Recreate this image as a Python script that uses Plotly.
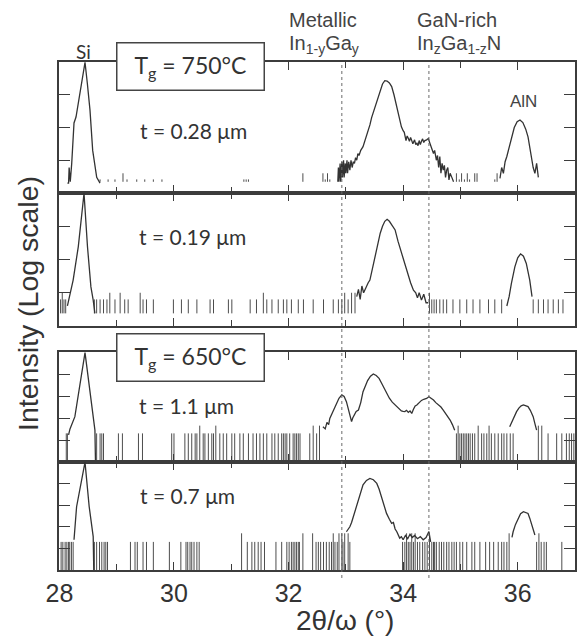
import plotly.graph_objects as go

# ---------------------------------------------------------------------------
# XRD 2θ/ω scans (counts vs 2θ in degrees), four InGaN/InGa samples.
#   a: Tg = 750 °C, t = 0.28 µm     b: Tg = 750 °C, t = 0.19 µm
#   c: Tg = 650 °C, t = 1.1 µm      d: Tg = 650 °C, t = 0.7 µm
# ---------------------------------------------------------------------------

# --- sample a ---
si_tt_a = [28.14, 28.16, 28.17, 28.19, 28.215, 28.255, 28.29, 28.447, 28.487,
           28.534, 28.581, 28.621, 28.651, 28.709]
si_cps_a = [2, 2, 6, 2.2, 8, 138, 209, 9800, 2290, 339, 20, 6, 3, 2]

main_tt_a = [32.86, 32.87, 32.88, 32.90, 32.91, 32.93, 32.94, 32.96, 32.97, 32.99,
             33.00, 33.02, 33.03, 33.05, 33.07, 33.09, 33.11, 33.13, 33.15, 33.17,
             33.19, 33.21, 33.23, 33.26, 33.30, 33.33, 33.36, 33.40, 33.42, 33.45,
             33.48, 33.51, 33.54, 33.58, 33.61, 33.64, 33.68, 33.72, 33.76, 33.80,
             33.84, 33.89, 33.93, 33.97, 34.00, 34.02, 34.05, 34.07, 34.09, 34.11,
             34.13, 34.15, 34.17, 34.20, 34.22, 34.24, 34.26, 34.28, 34.30, 34.32,
             34.34, 34.36, 34.38, 34.41, 34.44, 34.47, 34.50, 34.53, 34.55, 34.58,
             34.60, 34.62, 34.64, 34.66, 34.68, 34.70, 34.72, 34.74, 34.76, 34.78,
             34.80, 34.82, 34.85, 34.88]
main_cps_a = [2.2, 6, 2.2, 8, 2.2, 9, 3, 10, 3, 8,
              4, 10, 4, 9, 5, 10, 6, 9, 8, 12,
              10, 16, 14, 20, 26, 38, 50, 85, 120, 200,
              295, 450, 690, 1150, 1580, 2140, 2690, 2630, 2290, 1780,
              1000, 436, 200, 105, 80, 71, 40, 55, 47, 38,
              50, 36, 32, 42, 30, 33, 28, 40, 30, 38,
              45, 35, 40, 42, 46, 32, 23, 16, 20, 10,
              14, 6, 13, 4, 8, 5, 7, 3, 5, 6,
              2.5, 4, 3, 2.2]

aln_tt_a = [35.69, 35.72, 35.75, 35.78, 35.81, 35.85, 35.89, 35.94, 35.99, 36.04,
            36.09, 36.14, 36.18, 36.21, 36.24, 36.27, 36.30, 36.33, 36.36]
aln_cps_a = [2.8, 6, 4, 9, 13, 25, 52, 100, 150, 170,
             141, 89, 52, 25, 13, 6, 4, 8, 3]

noise_tt_a = [28.71, 28.85, 28.97, 29.18, 29.35, 29.49, 29.64, 29.79, 31.22, 31.26,
              31.30, 32.64, 32.72, 34.98, 35.07, 35.16, 35.60]
noise_tall_tt_a = [29.11, 32.25, 32.60, 32.68, 34.93, 35.02, 35.12, 35.25, 35.29, 35.64]

# --- sample b ---
si_tt_b = [28.14, 28.185, 28.24, 28.33, 28.43, 28.49, 28.55, 28.59, 28.62]
si_cps_b = [4, 9.5, 24, 245, 9800, 245, 15, 6, 2.4]

main_tt_b = [33.19, 33.22, 33.25, 33.28, 33.31, 33.33, 33.36, 33.39, 33.42, 33.46,
             33.51, 33.56, 33.60, 33.64, 33.68, 33.72, 33.76, 33.81, 33.86, 33.91,
             33.97, 34.03, 34.09, 34.13, 34.18, 34.22, 34.25, 34.28, 34.32, 34.36,
             34.40, 34.44]
main_cps_b = [7.6, 12.6, 6.3, 16, 10, 12, 16, 20, 24, 50,
              120, 280, 617, 1000, 1410, 1620, 1410, 1050, 776, 355,
              155, 71, 30, 20, 12, 10, 7, 10, 6, 9,
              5, 5]

aln_tt_b = [35.81, 35.85, 35.89, 35.95, 36.00, 36.05, 36.10, 36.15, 36.21, 36.25]
aln_cps_b = [4, 7.6, 19, 60, 112, 148, 126, 76, 24, 7.6]

noise_tt_b = [28.02, 28.08, 28.11, 28.61, 28.65, 28.71, 28.77, 28.83, 28.97, 29.14,
              29.20, 29.46, 29.52, 29.64, 29.99, 30.13, 30.25, 30.40, 30.63, 30.69,
              30.95, 31.01, 31.33, 31.44, 31.62, 31.71, 31.82, 31.91, 31.97, 32.05,
              32.17, 32.26, 32.43, 32.61, 32.78, 32.87, 32.93, 33.04, 34.50, 34.54,
              34.58, 34.64, 34.70, 34.76, 34.87, 34.99, 35.11, 35.22, 35.34, 35.49,
              35.60, 35.72, 36.27, 36.36, 36.45, 36.53, 36.62, 36.71, 36.79]
noise_tall_tt_b = [28.05, 28.88, 29.06, 29.41, 31.56, 32.98, 33.10, 33.16, 34.46]

# --- sample c ---
si_tt_c = [28.16, 28.185, 28.27, 28.447, 28.62, 28.63]
si_cps_c = [17, 32, 115, 93000, 28, 1]

main_tt_c = [32.60, 32.64, 32.67, 32.70, 32.72, 32.76, 32.80, 32.84, 32.88, 32.93,
             32.97, 33.01, 33.05, 33.08, 33.10, 33.12, 33.15, 33.18, 33.22, 33.26,
             33.30, 33.33, 33.38, 33.43, 33.48, 33.53, 33.58, 33.62, 33.66, 33.71,
             33.76, 33.81, 33.86, 33.90, 33.94, 33.97, 34.00, 34.03, 34.06, 34.09,
             34.12, 34.15, 34.18, 34.21, 34.24, 34.28, 34.32, 34.36, 34.41, 34.45,
             34.49, 34.53, 34.57, 34.62, 34.66, 34.70, 34.74, 34.78, 34.82, 34.86,
             34.90]
main_cps_c = [40, 32, 63, 50, 95, 160, 280, 470, 790, 1120,
              950, 550, 200, 100, 68, 100, 140, 200, 230, 500,
              1580, 2630, 5010, 7940, 10000, 8510, 6310, 3980, 2510, 1320,
              790, 525, 390, 316, 260, 210, 200, 195, 224, 180,
              210, 162, 250, 355, 390, 500, 630, 710, 775, 930,
              795, 660, 500, 400, 316, 230, 160, 126, 81, 50,
              28]

aln_tt_c = [35.86, 35.90, 35.94, 35.98, 36.02, 36.06, 36.10, 36.14, 36.18, 36.22,
            36.27, 36.30, 36.33]
aln_cps_c = [40, 71, 126, 195, 280, 355, 390, 355, 330, 224, 115, 56, 28]

noise_tt_c = [28.12, 28.14, 28.65, 28.71, 28.74, 28.77, 29.03, 29.10, 29.38, 29.45,
              29.96, 30.00, 30.19, 30.25, 30.31, 30.37, 30.40, 30.51, 30.54, 30.60,
              30.66, 30.69, 30.80, 30.86, 30.92, 31.01, 31.06, 31.15, 31.21, 31.30,
              31.38, 31.44, 31.50, 31.56, 31.62, 31.71, 31.76, 31.82, 31.88, 31.91,
              31.94, 31.97, 32.02, 32.08, 32.11, 32.14, 32.17, 32.20, 32.37, 32.49,
              34.93, 34.99, 35.02, 35.05, 35.08, 35.11, 35.14, 35.17, 35.21, 35.25,
              35.37, 35.41, 35.46, 35.54, 35.60, 35.66, 35.72, 35.76, 35.81, 35.87,
              35.92, 36.53, 36.68, 36.77, 36.85, 36.90, 36.94, 36.98]
noise_tall_tt_c = [30.45, 30.73, 32.43, 32.54, 34.96, 35.31, 35.50, 36.36, 36.42]

# --- sample d ---
si_tt_d = [28.255, 28.30, 28.447, 28.52, 28.59, 28.60]
si_cps_d = [25, 850, 98000, 850, 35, 1]

main_tt_d = [33.01, 33.04, 33.07, 33.10, 33.13, 33.17, 33.22, 33.26, 33.30, 33.36,
             33.42, 33.48, 33.54, 33.58, 33.62, 33.67, 33.71, 33.76, 33.80, 33.83,
             33.86, 33.89, 33.92, 33.94, 33.97, 34.00, 34.04, 34.08, 34.12, 34.16,
             34.20, 34.25, 34.30, 34.35, 34.40, 34.45, 34.48]
main_cps_d = [59, 79, 100, 158, 295, 710, 1740, 3980, 8710, 14100,
              17400, 15100, 10200, 5620, 2450, 1000, 417, 224, 145, 158,
              79, 59, 40, 30, 35, 25, 40, 28, 45, 32,
              40, 28, 35, 25, 32, 60, 20]

aln_tt_d = [35.90, 35.92, 35.96, 36.01, 36.05, 36.10, 36.14, 36.18, 36.21, 36.24,
            36.27, 36.30]
aln_cps_d = [32, 59, 126, 245, 400, 500, 457, 417, 251, 145, 79, 42]

noise_tt_d = [28.03, 28.06, 28.10, 28.13, 28.16, 28.18, 28.21, 28.24, 28.61, 28.65,
              28.70, 28.74, 28.78, 28.81, 28.84, 29.24, 29.32, 29.36, 29.46, 29.52,
              29.64, 29.92, 30.12, 30.21, 30.24, 30.28, 30.31, 30.35, 30.40, 30.44,
              31.28, 31.36, 31.41, 31.47, 31.52, 31.58, 31.78, 31.88, 31.97, 32.01,
              32.05, 32.08, 32.11, 32.14, 32.17, 32.19, 32.48, 32.52, 32.56, 32.61,
              32.66, 32.71, 32.75, 32.81, 32.85, 32.95, 33.07, 33.99, 34.03, 34.09,
              34.12, 34.18, 34.25, 34.29, 34.34, 34.38, 34.42, 34.50, 34.53, 34.55,
              34.58, 34.63, 34.67, 34.71, 34.76, 34.80, 34.85, 34.89, 34.93, 34.99,
              35.04, 35.11, 35.20, 35.25, 35.34, 35.44, 35.51, 35.58, 35.66, 35.72,
              35.76, 35.81, 36.33, 36.41, 36.46, 36.50, 36.77]
noise_tall_tt_d = [31.18, 32.25, 32.42, 32.78, 32.88, 32.93, 32.98, 33.04, 34.06,
                   34.15, 34.21, 34.46, 35.85, 36.37]

# Reference-line positions (2θ, degrees)
metallic_tt = 32.93
gan_rich_tt = 34.45

x_ticks = [28, 30, 32, 34, 36]

# ---------------------------------------------------------------------------
W, H = 579, 639
INK = "#333333"
LABEL = "#444444"
NOISE = "#4d4d4d"
AX = "#3c3c3c"
CAL = "Lato, 'Open Sans', sans-serif"
ARI = "'Liberation Sans', Arial, sans-serif"


def fx(p):
    return p / W


def fy(p):
    return 1 - p / H


X_LEFT, X_RIGHT = 59.4, 575.0

panels = [
    dict(curves=[(si_tt_a, si_cps_a), (main_tt_a, main_cps_a), (aln_tt_a, aln_cps_a)],
         noise=noise_tt_a, tall=noise_tall_tt_a, floor=2.2, level=2.6, tall_level=4,
         decades=4, top=62, bottom=193),
    dict(curves=[(si_tt_b, si_cps_b), (main_tt_b, main_cps_b), (aln_tt_b, aln_cps_b)],
         noise=noise_tt_b, tall=noise_tall_tt_b, floor=2.4, level=6.3, tall_level=10,
         decades=4, top=193, bottom=326),
    dict(curves=[(si_tt_c, si_cps_c), (main_tt_c, main_cps_c), (aln_tt_c, aln_cps_c)],
         noise=noise_tt_c, tall=noise_tall_tt_c, floor=1, level=20, tall_level=45,
         decades=5, top=352, bottom=462),
    dict(curves=[(si_tt_d, si_cps_d), (main_tt_d, main_cps_d), (aln_tt_d, aln_cps_d)],
         noise=noise_tt_d, tall=noise_tall_tt_d, floor=1, level=20, tall_level=50,
         decades=5, top=462, bottom=570),
]

fig = go.Figure()
layout = {}

for i, p in enumerate(panels, start=1):
    sx = "" if i == 1 else str(i)
    xa, ya = f"x{sx}", f"y{sx}"

    # background counts: thin vertical strokes from the zero-count floor
    for positions, lvl in ((p["noise"], p["level"]), (p["tall"], p["tall_level"])):
        xs, ys = [], []
        for t in positions:
            xs += [t, t, None]
            ys += [p["floor"], lvl, None]
        fig.add_trace(go.Scatter(x=xs, y=ys, mode="lines", xaxis=xa, yaxis=ya,
                                 line=dict(color=NOISE, width=1), hoverinfo="skip",
                                 showlegend=False))

    for tt, cps in p["curves"]:
        fig.add_trace(go.Scatter(x=tt, y=cps, mode="lines", xaxis=xa, yaxis=ya,
                                 line=dict(color=INK, width=1.3), showlegend=False))

    last = i == len(panels)
    layout[f"xaxis{sx}"] = dict(
        domain=[fx(X_LEFT), fx(X_RIGHT)], anchor=ya, range=[28, 37],
        tickvals=x_ticks, ticks="inside", ticklen=8, tickwidth=1.3, tickcolor=AX,
        minor=dict(dtick=1, tick0=28, ticks="inside", ticklen=6, tickwidth=1.3,
                   tickcolor=AX),
        showline=True, linecolor=AX, linewidth=1.6, mirror="ticks",
        showgrid=False, zeroline=False, showticklabels=last, automargin=False,
        tickfont=dict(family=ARI, size=25, color=INK),
    )
    layout[f"yaxis{sx}"] = dict(
        domain=[fy(p["bottom"]), fy(p["top"])], anchor=xa, type="log",
        range=[0, p["decades"]], dtick=1, ticks="inside", ticklen=11,
        tickwidth=1.3, tickcolor=AX, showline=True, linecolor=AX, linewidth=1.6,
        mirror="ticks", showgrid=False, zeroline=False, showticklabels=False,
        automargin=False,
    )

# dotted guide lines through all panels
shapes = []
for t in (metallic_tt, gan_rich_tt):
    shapes.append(dict(type="line", xref="x4", yref="paper", x0=t, x1=t,
                       y0=fy(578), y1=fy(62),
                       line=dict(color="#6a6a6a", width=1, dash="dot")))


def note(text, x, y, size, family=CAL, xanchor="center", color=INK, **kw):
    return dict(text=text, x=fx(x), y=fy(y), xref="paper", yref="paper",
                xanchor=xanchor, yanchor="middle", showarrow=False,
                font=dict(family=family, size=size, color=color), **kw)


box = dict(bgcolor="white", bordercolor="#444444", borderwidth=1.5, borderpad=2,
           width=142, height=42)

annotations = [
    note("Si", 83, 51, 19),
    note("T<sub>g</sub> = 750°C", 190, 66, 23, **box),
    note("t = 0.28 μm", 193, 130, 21),
    note("Metallic", 287, 20, 20, family=ARI, xanchor="left", color=LABEL),
    note("In<sub>1-y</sub>Ga<sub>y</sub>", 287, 44, 20, family=ARI, xanchor="left",
         color=LABEL),
    note("GaN-rich", 415, 20, 20, family=ARI, xanchor="left", color=LABEL),
    note("In<sub>z</sub>Ga<sub>1-z</sub>N", 415, 44, 20, family=ARI, xanchor="left",
         color=LABEL),
    note("AlN", 523, 102, 17, family=ARI, color=LABEL),
    note("t = 0.19 μm", 192, 236, 21),
    note("T<sub>g</sub> = 650°C", 190, 357, 23, **box),
    note("t = 1.1 μm", 186, 405, 21),
    note("t = 0.7 μm", 187, 495, 21),
    note("2θ/ω (°)", 345, 620, 28, family=ARI),
    note("Intensity (Log scale)", 28, 304, 28.5, family=ARI, textangle=-90),
]

fig.update_layout(
    width=W, height=H, margin=dict(l=0, r=0, t=0, b=0),
    paper_bgcolor="white", plot_bgcolor="white",
    showlegend=False, shapes=shapes, annotations=annotations, **layout,
)

fig.write_html("out.html")
